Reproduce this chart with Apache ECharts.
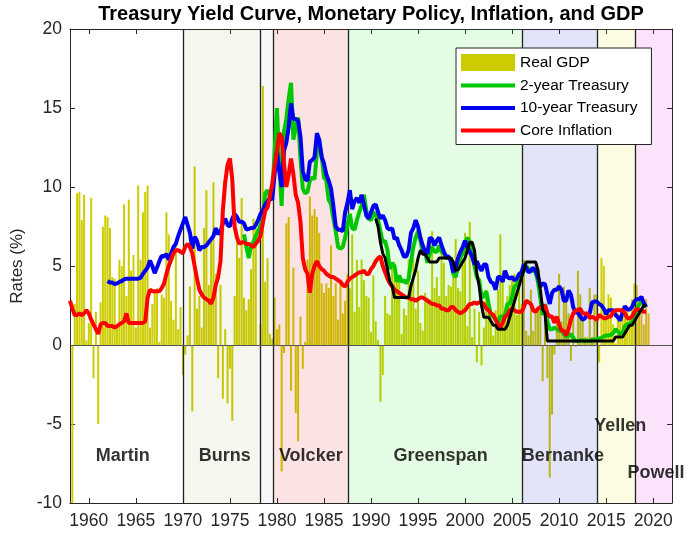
<!DOCTYPE html>
<html>
<head>
<meta charset="utf-8">
<title>Treasury Yield Curve, Monetary Policy, Inflation, and GDP</title>
<script src="https://cdn.jsdelivr.net/npm/echarts@6/dist/echarts.min.js"></script>
<style>
  html, body { margin: 0; padding: 0; background: #fff; }
  #chart { width: 687px; height: 534px; }
</style>
</head>
<body>
<div id="chart"></div>
<script>
// real GDP growth, annualized %, one value per quarter from 1958Q1
const gdpStart = 1958.25;
const realGdp = [
  -10.0, 2.6, 9.6, 9.7,   7.9, 9.5, 0.3, 1.4,     9.3, -2.1, 2.1, -5.0,   2.7, 7.5, 8.2, 8.1,
  7.4, 4.3, 4.2, 1.3,     5.4, 5.0, 8.9, 3.1,     9.2, 4.7, 5.7, 1.1,     10.1, 5.4, 8.4, 9.7,
  10.1, 1.1, 2.6, 3.5,    3.6, 0.2, 3.2, 3.0,     8.4, 7.0, 2.8, 1.6,     6.3, 1.0, 2.4, -1.9,
  -0.6, 0.6, 3.7, -4.2,   11.3, 2.3, 3.1, 1.1,    7.4, 9.8, 3.8, 6.8,     10.3, 4.5, -2.1, 3.8,
  -3.4, 1.0, -3.7, -1.5,  -4.8, 3.1, 6.9, 5.5,    9.3, 3.0, 2.2, 2.9,     4.8, 8.0, 7.4, 0.0,
  1.3, 16.4, 4.0, 5.5,    0.7, 0.4, 3.0, 1.0,     1.3, -8.0, -0.5, 7.7,   8.1, -2.9, 4.9, -4.3,
  -6.1, 1.8, -1.5, 0.2,   5.4, 9.4, 8.2, 8.6,     8.1, 7.1, 3.9, 3.3,     3.9, 3.6, 6.3, 3.1,
  3.9, 1.6, 3.9, 2.0,     2.8, 4.5, 3.6, 7.0,     2.1, 5.4, 2.4, 5.4,     4.1, 3.1, 3.0, 0.8,
  4.4, 1.5, 0.3, -3.6,    -1.9, 3.1, 2.0, 1.9,    4.9, 4.4, 4.0, 4.2,     0.7, 2.3, 1.9, 5.4,
  3.9, 5.5, 2.3, 4.7,     1.4, 0.9, 3.3, 3.0,     2.9, 7.2, 3.6, 4.3,     3.1, 6.2, 5.2, 3.1,
  3.8, 3.7, 5.3, 6.7,     3.6, 3.4, 5.1, 7.1,     1.2, 7.8, 0.5, 2.3,     -1.1, 2.1, -1.3, 1.1,
  3.5, 2.4, 1.8, 0.6,     2.2, 3.5, 7.0, 4.7,     2.2, 3.1, 3.8, 4.1,     4.5, 1.9, 3.6, 2.6,
  5.4, 0.9, 0.6, 3.5,     0.9, 2.3, 2.2, 2.5,     -2.3, 2.1, -2.1, -8.4,  -4.4, -0.6, 1.5, 4.5,
  1.5, 3.7, 3.0, 2.0,     -1.0, 2.9, -0.1, 4.7,   3.2, 1.7, 0.5, 0.5,     3.6, 0.5, 3.2, 3.2,
  -1.1, 5.5, 5.0, 2.3,    3.2, 3.0, 1.3, 0.1,     2.0, 1.9, 2.2, 2.0,     2.3, 1.7, 2.9, 3.9,
  3.8, 2.7, 2.1, 1.3,     2.9, 2.0
];

// 2-year treasury yield, %, quarterly from mid 1976
const t2Start = 1976.5;
const treasury2y = [
  7.0, 6.2,
  5.5, 6.3, 6.5, 6.9,     7.2, 7.6, 8.0, 9.6,     9.8, 9.4, 9.5, 12.2,    15.0, 11.5, 8.8, 13.5,
  14.3, 15.6, 16.6, 13.0, 13.8, 14.4, 11.8, 9.9,  9.6, 9.7, 10.4, 10.6,   10.5, 12.2, 12.8, 12.0,
  10.6, 10.4, 9.2, 8.9,   8.0, 7.2, 6.2, 6.1,     6.2, 6.8, 7.6, 8.3,     7.4, 7.3, 7.9, 8.4,
  8.8, 9.5, 8.5, 8.0,     7.9, 8.4, 8.2, 7.9,     7.2, 6.5, 6.6, 6.0,     4.8, 5.2, 5.0, 4.0,
  4.4, 4.0, 4.1, 3.9,     4.2, 5.3, 6.2, 6.8,     7.2, 6.6, 5.9, 5.9,     5.2, 5.8, 6.2, 5.9,
  5.9, 6.3, 5.9, 5.8,     5.5, 5.5, 5.4, 4.5,     4.3, 5.0, 5.5, 5.8,     6.4, 6.8, 6.5, 6.0,
  5.0, 4.3, 4.1, 3.0,     3.1, 3.4, 2.6, 1.9,     1.8, 1.6, 1.4, 1.8,     1.8, 1.9, 2.6, 2.6,
  3.1, 3.7, 3.8, 4.1,     4.4, 4.7, 5.0, 4.8,     4.8, 4.7, 4.6, 4.0,     3.0, 1.9, 2.6, 1.5,
  1.0, 1.0, 1.1, 1.0,     0.9, 0.9, 0.7, 0.5,     0.6, 0.7, 0.45, 0.25,   0.25, 0.3, 0.3, 0.25,
  0.27, 0.25, 0.35, 0.35, 0.35, 0.4, 0.45, 0.55,  0.6, 0.6, 0.65, 0.75,   1.0, 0.85, 0.7, 0.8,
  1.2, 1.3, 1.35, 1.45,   1.9, 2.3, 2.55, 2.8,    2.6, 2.4
];

// 10-year treasury yield, %, quarterly from 1962
const t10Start = 1962.0;
const treasury10y = [
  4.05, 3.95, 3.95, 3.85, 3.9, 4.0, 4.05, 4.15,   4.2, 4.2, 4.2, 4.2,     4.2, 4.2, 4.25, 4.5,
  4.7, 4.9, 5.35, 5.0,    4.55, 4.9, 5.3, 5.65,   5.6, 5.75, 5.4, 5.8,    6.2, 6.4, 6.9, 7.3,
  7.7, 8.1, 7.6, 7.1,     6.1, 6.85, 6.6, 6.0,    6.2, 6.2, 6.3, 6.5,     6.7, 6.9, 7.4, 7.0,
  7.2, 7.7, 8.0, 7.6,     7.5, 8.0, 8.3, 8.1,     7.8, 7.8, 7.7, 7.3,     7.35, 7.4, 7.4, 7.6,
  7.9, 8.3, 8.5, 8.9,     9.1, 9.3, 9.2, 10.8,    12.3, 11.0, 10.0, 12.3, 12.8, 13.8, 15.3, 14.3,
  14.3, 14.2, 13.2, 11.0, 10.5, 10.4, 11.6, 11.7, 11.9, 13.4, 13.0, 11.9, 11.5, 10.8, 10.4, 9.9,
  8.8, 7.5, 7.3, 7.3,     7.2, 8.4, 9.0, 9.8,     8.6, 9.1, 9.3, 9.0,     9.5, 8.9, 8.2, 8.0,
  8.4, 8.8, 8.9, 8.4,     8.0, 8.2, 7.9, 7.4,     7.3, 7.4, 6.7, 6.8,     6.3, 6.0, 5.6, 5.6,
  6.0, 7.1, 7.4, 7.9,     7.5, 6.8, 6.3, 5.9,     5.8, 6.8, 6.7, 6.3,     6.6, 6.8, 6.3, 5.9,
  5.6, 5.6, 5.3, 4.6,     4.9, 5.5, 5.9, 6.2,     6.6, 6.2, 5.9, 5.6,     5.1, 5.3, 4.95, 4.7,
  5.1, 5.1, 4.3, 4.0,     3.9, 3.5, 4.3, 4.3,     4.0, 4.7, 4.3, 4.2,     4.3, 4.1, 4.2, 4.5,
  4.6, 5.1, 4.9, 4.6,     4.7, 4.9, 4.7, 4.3,     3.7, 3.9, 3.85, 3.2,    2.6, 3.3, 3.5, 3.5,
  3.7, 3.5, 2.8, 2.8,     3.45, 3.2, 2.4, 2.05,   2.05, 1.8, 1.6, 1.7,    1.95, 2.0, 2.7, 2.75,
  2.75, 2.6, 2.5, 2.3,    1.95, 2.2, 2.2, 2.2,    1.9, 1.75, 1.55, 2.1,   2.45, 2.25, 2.25, 2.4,
  2.75, 2.9, 2.9, 3.05,   2.65, 2.4
];

// core inflation, year over year %, quarterly from 1958
const inflStart = 1958.0;
const coreInflation = [
  2.8, 2.3, 1.9, 1.9,     2.0, 1.9, 2.0, 2.2,     2.0, 1.6, 1.3, 1.0,     0.7, 1.3, 1.4, 1.4,
  1.2, 1.2, 1.2, 1.1,     1.2, 1.3, 1.4, 1.5,     2.0, 1.4, 1.4, 1.4,     1.4, 1.4, 1.4, 1.4,
  1.5, 3.0, 3.5, 3.4,     3.4, 3.4, 3.4, 3.6,     3.9, 4.5, 5.0, 5.4,     5.8, 6.0, 6.0, 5.9,
  5.8, 6.2, 6.4, 6.2,     5.8, 5.0, 4.2, 3.5,     3.2, 3.0, 2.9, 2.8,     2.6, 3.0, 3.8, 4.3,
  5.3, 8.5, 10.3, 11.4,   11.8, 10.5, 7.5, 6.8,   6.4, 6.5, 6.5, 6.4,     6.4, 6.3, 6.2, 6.4,
  6.6, 6.9, 7.7, 8.5,     8.7, 9.4, 10.2, 11.3,   12.3, 13.4, 13.2, 11.5, 10.0, 10.8, 11.8, 10.8,
  9.5, 9.0, 7.8, 5.5,     4.8, 4.5, 3.3, 4.5,     5.0, 5.3, 5.0, 4.8,     4.7, 4.5, 4.4, 4.3,
  4.3, 4.2, 4.1, 4.0,     3.8, 3.7, 4.0, 4.2,     4.3, 4.4, 4.5, 4.6,     4.6, 4.7, 4.5, 4.5,
  4.8, 5.0, 5.3, 5.5,     5.6, 5.0, 4.6, 4.2,     3.9, 3.7, 3.5, 3.4,     3.3, 3.2, 3.1, 3.0,
  3.0, 2.9, 2.9, 2.8,     2.9, 3.0, 3.0, 2.9,     2.8, 2.7, 2.6, 2.6,     2.5, 2.5, 2.3, 2.3,
  2.2, 2.2, 2.4, 2.4,     2.2, 2.1, 2.0, 2.1,     2.2, 2.4, 2.6, 2.6,     2.7, 2.6, 2.7, 2.7,
  2.6, 2.3, 2.2, 2.0,     1.9, 1.6, 1.3, 1.1,     1.4, 1.8, 1.9, 2.2,     2.3, 2.2, 2.1, 2.1,
  2.1, 2.4, 2.8, 2.7,     2.6, 2.2, 2.1, 2.3,     2.4, 2.4, 2.5, 2.0,     1.8, 1.8, 1.4, 1.8,
  1.3, 0.9, 0.9, 0.6,     1.0, 1.6, 2.0, 2.2,     2.2, 2.3, 2.0, 2.0,     2.0, 1.7, 1.8, 1.7,
  1.6, 1.9, 1.8, 1.7,     1.7, 1.8, 1.8, 2.1,     2.2, 2.2, 2.2, 2.2,     2.0, 1.7, 1.7, 1.8,
  2.1, 2.3, 2.2, 2.2,     2.1, 2.1
];

// federal funds target rate, %, quarterly from mid 1990 (black line)
const fedStart = 1990.5;
const fedTarget = [
  8.0, 7.5,
  6.5, 5.8, 5.5, 4.8,     4.0, 3.75, 3.0, 3.0,    3.0, 3.0, 3.0, 3.0,     3.0, 3.75, 4.25, 4.75,
  5.5, 6.0, 5.75, 5.75,   5.5, 5.25, 5.25, 5.25,  5.25, 5.5, 5.5, 5.5,    5.5, 5.5, 5.5, 5.25,
  4.75, 4.75, 5.0, 5.25,  5.5, 6.0, 6.5, 6.5,     6.0, 4.5, 3.75, 2.5,    1.75, 1.75, 1.75, 1.5,
  1.25, 1.25, 1.0, 1.0,   1.0, 1.0, 1.25, 1.75,   2.25, 2.75, 3.25, 3.75, 4.25, 4.75, 5.25, 5.25,
  5.25, 5.25, 5.25, 4.75, 3.5, 2.25, 2.0, 0.25,
  0.25, 0.25, 0.25, 0.25, 0.25, 0.25, 0.25, 0.25, 0.25, 0.25, 0.25, 0.25, 0.25, 0.25, 0.25, 0.25,
  0.25, 0.25, 0.25, 0.25, 0.25, 0.25, 0.25, 0.25, 0.25, 0.25, 0.25, 0.25,
  0.5, 0.5, 0.5, 0.5,     0.75, 1.0, 1.25, 1.25,  1.5, 1.75, 2.0, 2.25,   2.5, 2.5
];

// Fed chairs and the year each took office
const chairNames = ['Burns', 'Miller', 'Volcker', 'Greenspan', 'Bernanke', 'Yellen', 'Powell'];
const chairStarts = [1970.08, 1978.18, 1979.6, 1987.61, 2006.08, 2014.09, 2018.1];
const tickYears = [1960, 1965, 1970, 1975, 1980, 1985, 1990, 1995, 2000, 2005, 2010, 2015, 2020];

// where the chair names are written (data coords)
const chairLabels = [
  { name: 'Martin', at: [1963.6, -7.0] },
  { name: 'Burns', at: [1974.45, -7.0] },
  { name: 'Volcker', at: [1983.6, -7.0] },
  { name: 'Greenspan', at: [1997.4, -7.0] },
  { name: 'Bernanke', at: [2010.4, -7.0] },
  { name: 'Yellen', at: [2016.5, -5.15] },
  { name: 'Powell', at: [2020.3, -8.1] }
];

const X_MIN = 1958, X_MAX = 2022;
const regionColors = {
  Burns: 'rgba(120,130,0,0.07)',
  Miller: 'rgba(0,0,0,0.03)',
  Volcker: 'rgba(230,0,0,0.11)',
  Greenspan: 'rgba(0,230,0,0.11)',
  Bernanke: 'rgba(0,0,200,0.11)',
  Yellen: 'rgba(225,225,0,0.11)',
  Powell: 'rgba(225,0,225,0.11)'
};

const toPairs = (start, vals) => vals.map((v, i) => [start + i * 0.25, v]);

const FONT = '"Liberation Sans", Arial, Helvetica, sans-serif';
const AXIS = '#262626';
// thin bar used as legend icon for the lines (no marker dot)
const LINE_ICON = 'path://M0,0L54,0L54,4L0,4Z';

const regions = chairNames.map((n, i) => [
  { xAxis: chairStarts[i], itemStyle: { color: regionColors[n] } },
  { xAxis: i + 1 < chairStarts.length ? chairStarts[i + 1] : X_MAX }
]);

const boundaryLines = chairStarts.map(x => ({ xAxis: x }));

function xAxisDef(pos, showLabels) {
  return {
    type: 'value', position: pos, min: X_MIN, max: X_MAX,
    axisLine: { show: true, onZero: false, lineStyle: { color: AXIS, width: 1 } },
    axisTick: { show: true, inside: true, length: 5, customValues: tickYears, lineStyle: { color: AXIS } },
    axisLabel: { show: showLabels, customValues: tickYears, margin: 9, color: AXIS,
      fontSize: 17.5, fontFamily: FONT, formatter: v => String(v) },
    splitLine: { show: false }
  };
}
function yAxisDef(pos, showLabels) {
  return {
    type: 'value', position: pos, min: -10, max: 20, interval: 5,
    name: showLabels ? 'Rates (%)' : '', nameLocation: 'middle', nameGap: 44,
    nameTextStyle: { color: AXIS, fontSize: 17, fontFamily: FONT },
    axisLine: { show: true, onZero: false, lineStyle: { color: AXIS, width: 1 } },
    axisTick: { show: true, inside: true, length: 5, lineStyle: { color: AXIS } },
    axisLabel: { show: showLabels, margin: 8, color: AXIS, fontSize: 17.5, fontFamily: FONT },
    splitLine: { show: false }
  };
}

const chart = echarts.init(document.getElementById('chart'));
chart.setOption({
  animation: false,
  backgroundColor: '#fff',
  grid: { left: 70, right: 15, top: 29, bottom: 31 },
  graphic: [{
    type: 'text', x: 371, y: 4,
    style: {
      text: 'Treasury Yield Curve, Monetary Policy, Inflation, and GDP',
      font: 'bold 20px ' + FONT, fill: '#000', align: 'center', textAlign: 'center'
    }
  }],
  legend: {
    orient: 'vertical', left: 456, top: 48,
    itemWidth: 54, itemHeight: 17, itemGap: 6.5,
    padding: [6, 14, 6, 5],
    backgroundColor: '#fff', borderColor: AXIS, borderWidth: 1,
    textStyle: { color: '#000', fontSize: 15.5, fontFamily: FONT },
    data: [
      { name: 'Real GDP', icon: 'rect' },
      { name: '2-year Treasury', icon: LINE_ICON },
      { name: '10-year Treasury', icon: LINE_ICON },
      { name: 'Core Inflation', icon: LINE_ICON }
    ]
  },
  xAxis: [xAxisDef('bottom', true), xAxisDef('top', false)],
  yAxis: [yAxisDef('left', true), yAxisDef('right', false)],
  series: [
    {
      name: 'Real GDP', type: 'bar', z: 1, barWidth: 2,
      itemStyle: { color: '#cccc00' },
      data: toPairs(gdpStart, realGdp),
      markArea: { silent: true, z: 2, data: regions },
      markLine: {
        silent: true, z: 2, symbol: 'none', label: { show: false },
        data: [
          ...boundaryLines.map(d => ({ ...d, lineStyle: { color: '#222', width: 1.3, type: 'solid' } })),
          { yAxis: 0, lineStyle: { color: '#555', width: 1, type: 'solid' } }
        ]
      }
    },
    {
      name: '2-year Treasury', type: 'line', z: 3, showSymbol: false, symbol: 'none',
      lineStyle: { color: '#00c800', width: 4 }, itemStyle: { color: '#00c800' },
      data: toPairs(t2Start, treasury2y)
    },
    {
      name: '10-year Treasury', type: 'line', z: 4, showSymbol: false, symbol: 'none',
      lineStyle: { color: '#0000f0', width: 4 }, itemStyle: { color: '#0000f0' },
      data: toPairs(t10Start, treasury10y)
    },
    {
      name: 'Core Inflation', type: 'line', z: 5, showSymbol: false, symbol: 'none',
      lineStyle: { color: '#ff0000', width: 4 }, itemStyle: { color: '#ff0000' },
      data: toPairs(inflStart, coreInflation)
    },
    {
      name: 'Fed Funds Target', type: 'line', z: 6, showSymbol: false, symbol: 'none',
      lineStyle: { color: '#000', width: 3 }, itemStyle: { color: '#000' },
      data: toPairs(fedStart, fedTarget)
    },
    {
      name: 'Chairs', type: 'scatter', z: 7, symbolSize: 1, silent: true,
      itemStyle: { color: 'transparent' },
      label: { show: true, position: 'inside', formatter: '{b}', color: '#000',
        fontSize: 18, fontWeight: 'bold', fontFamily: FONT },
      data: chairLabels.map(c => ({ name: c.name, value: c.at }))
    }
  ]
});
</script>
</body>
</html>
